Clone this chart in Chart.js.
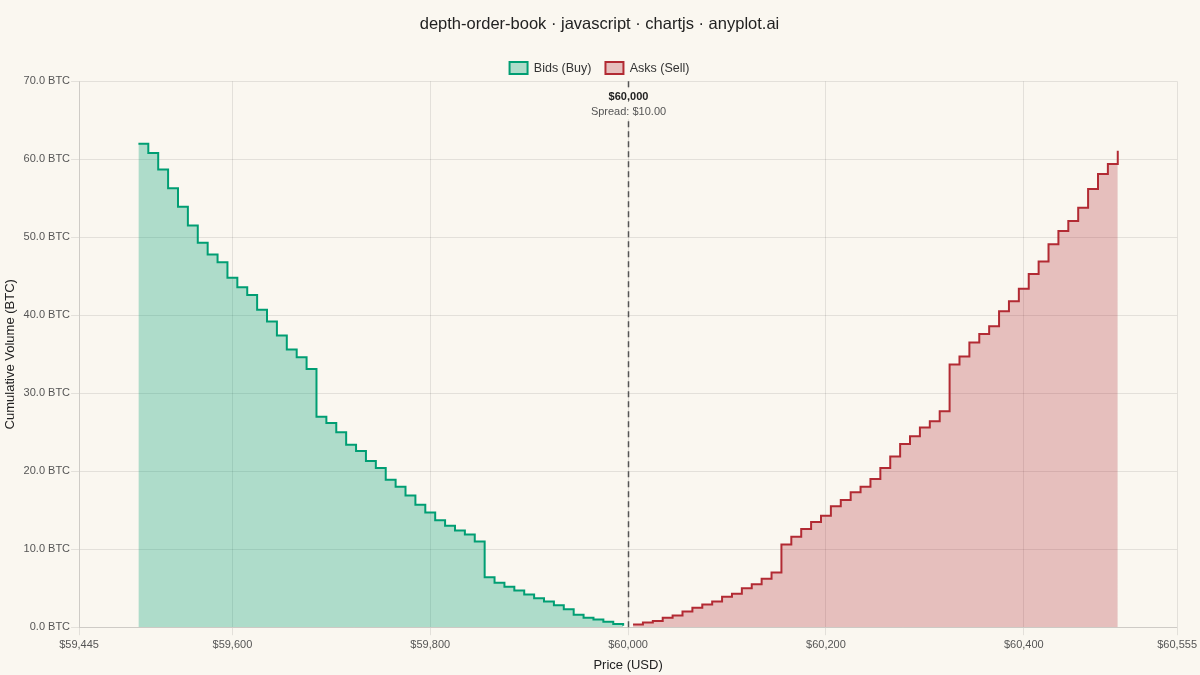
<!DOCTYPE html>
<html>
<head>
<meta charset="utf-8">
<script src="https://cdn.jsdelivr.net/npm/chart.js@4.4.1/dist/chart.umd.min.js"></script>
<style>
  html, body { margin: 0; padding: 0; background: #FAF7F0; }
  #wrap { width: 1200px; height: 675px; }
</style>
</head>
<body>
<div id="wrap"><canvas id="c" width="1200" height="675"></canvas></div>
<script>
const bidPrices = [59505,59515,59525,59535,59545,59555,59565,59575,59585,59595,
  59605,59615,59625,59635,59645,59655,59665,59675,59685,59695,
  59705,59715,59725,59735,59745,59755,59765,59775,59785,59795,
  59805,59815,59825,59835,59845,59855,59865,59875,59885,59895,
  59905,59915,59925,59935,59945,59955,59965,59975,59985,59995];
const bidVolumes = [62.0,60.8,58.7,56.3,53.9,51.5,49.3,47.8,46.8,44.8,
  43.6,42.6,40.7,39.2,37.4,35.6,34.6,33.1,27.0,26.2,
  25.0,23.4,22.6,21.3,20.4,18.9,18.0,16.9,15.7,14.7,
  13.7,13.0,12.4,11.9,11.0,6.4,5.7,5.2,4.7,4.2,
  3.7,3.3,2.8,2.3,1.6,1.2,1.0,0.7,0.4,0.2];
const askPrices = [60005,60015,60025,60035,60045,60055,60065,60075,60085,60095,
  60105,60115,60125,60135,60145,60155,60165,60175,60185,60195,
  60205,60215,60225,60235,60245,60255,60265,60275,60285,60295,
  60305,60315,60325,60335,60345,60355,60365,60375,60385,60395,
  60405,60415,60425,60435,60445,60455,60465,60475,60485,60495];
const askVolumes = [0.35,0.6,0.8,1.2,1.5,2.0,2.5,2.9,3.3,3.9,
  4.3,5.0,5.5,6.2,7.0,10.6,11.6,12.6,13.5,14.3,
  15.5,16.3,17.3,18.0,19.0,20.4,21.9,23.5,24.5,25.6,
  26.4,27.7,33.7,34.7,36.5,37.6,38.6,40.5,41.8,43.4,
  45.3,46.9,49.1,50.8,52.1,53.8,56.2,58.1,59.4,61.1];
const xTicks = [59445, 59600, 59800, 60000, 60200, 60400, 60555];
const midPrice = 60000;
const spread = 10.00;

const BG = '#FAF7F0';
Chart.defaults.font.family = "'Liberation Sans', Arial, Helvetica, sans-serif";
Chart.defaults.color = '#555';

const bgPlugin = {
  id: 'bg',
  beforeDraw(chart) {
    const ctx = chart.ctx;
    ctx.save();
    ctx.fillStyle = BG;
    ctx.fillRect(0, 0, chart.width, chart.height);
    ctx.restore();
  }
};

const legendTrim = {
  id: 'legendTrim',
  beforeLayout(chart) {
    const lg = chart.legend;
    if (lg && !lg._trimmed) {
      const orig = lg.fit.bind(lg);
      lg.fit = function () { orig(); this.height = Math.max(0, this.height - 3); };
      lg._trimmed = true;
    }
  }
};

const midPlugin = {
  id: 'mid',
  afterDatasetsDraw(chart) {
    const ctx = chart.ctx;
    const xs = chart.scales.x;
    const area = chart.chartArea;
    const px = Math.round(xs.getPixelForValue(midPrice)) + 0.5;
    ctx.save();
    ctx.strokeStyle = '#555';
    ctx.lineWidth = 1.5;
    ctx.setLineDash([6, 4]);
    ctx.beginPath();
    ctx.moveTo(px, area.top);
    ctx.lineTo(px, area.bottom);
    ctx.stroke();
    ctx.setLineDash([]);
    ctx.fillStyle = BG;
    ctx.fillRect(px - 40, area.top + 7, 80, 31);
    ctx.textAlign = 'center';
    ctx.textBaseline = 'middle';
    ctx.fillStyle = '#222';
    ctx.font = "bold 11px 'Liberation Sans', Arial, sans-serif";
    ctx.fillText('$' + midPrice.toLocaleString('en-US'), px, area.top + 16);
    ctx.fillStyle = '#555';
    ctx.font = "11px 'Liberation Sans', Arial, sans-serif";
    ctx.fillText('Spread: $' + spread.toFixed(2), px, area.top + 31);
    ctx.restore();
  }
};

const grid = 'rgba(0,0,0,0.09)';

new Chart(document.getElementById('c'), {
  type: 'line',
  data: {
    datasets: [
      {
        label: 'Bids (Buy)',
        data: bidPrices.map((p, i) => ({ x: p, y: bidVolumes[i] })),
        borderColor: '#009E73',
        backgroundColor: 'rgba(0,158,115,0.3)',
        borderWidth: 2,
        stepped: 'before',
        fill: 'origin',
        pointRadius: 0
      },
      {
        label: 'Asks (Sell)',
        data: askPrices.map((p, i) => ({ x: p, y: askVolumes[i] })),
        borderColor: '#B22A33',
        backgroundColor: 'rgba(178,42,51,0.27)',
        borderWidth: 2,
        stepped: 'before',
        fill: 'origin',
        pointRadius: 0
      }
    ]
  },
  options: {
    responsive: false,
    animation: false,
    layout: { padding: { left: 3, right: 4, top: 4, bottom: 0 } },
    plugins: {
      title: {
        display: true,
        text: 'depth-order-book · javascript · chartjs · anyplot.ai',
        color: '#222',
        font: { size: 16.5, weight: 'normal' },
        padding: { top: 11, bottom: 13 }
      },
      legend: {
        display: true,
        labels: {
          color: '#333',
          font: { size: 12.5 },
          boxWidth: 18,
          boxHeight: 12,
          padding: 14
        }
      },
      tooltip: { enabled: false }
    },
    scales: {
      x: {
        type: 'linear',
        min: 59445,
        max: 60555,
        afterBuildTicks(scale) { scale.ticks = xTicks.map(v => ({ value: v })); },
        ticks: {
          color: '#555',
          font: { size: 11 },
          maxRotation: 0,
          autoSkip: false,
          callback: v => '$' + Number(v).toLocaleString('en-US')
        },
        grid: { color: grid },
        border: { color: grid },
        title: { display: true, text: 'Price (USD)', color: '#222', font: { size: 13 }, padding: { top: 3, bottom: 2 } }
      },
      y: {
        min: 0,
        max: 70,
        ticks: {
          stepSize: 10,
          color: '#555',
          font: { size: 11 },
          padding: 1,
          callback: v => Number(v).toFixed(1) + ' BTC'
        },
        grid: { color: grid },
        border: { color: grid },
        title: { display: true, text: 'Cumulative Volume (BTC)', color: '#222', font: { size: 13 }, padding: { top: 0, bottom: 4 } }
      }
    }
  },
  plugins: [bgPlugin, legendTrim, midPlugin]
});
</script>
</body>
</html>
